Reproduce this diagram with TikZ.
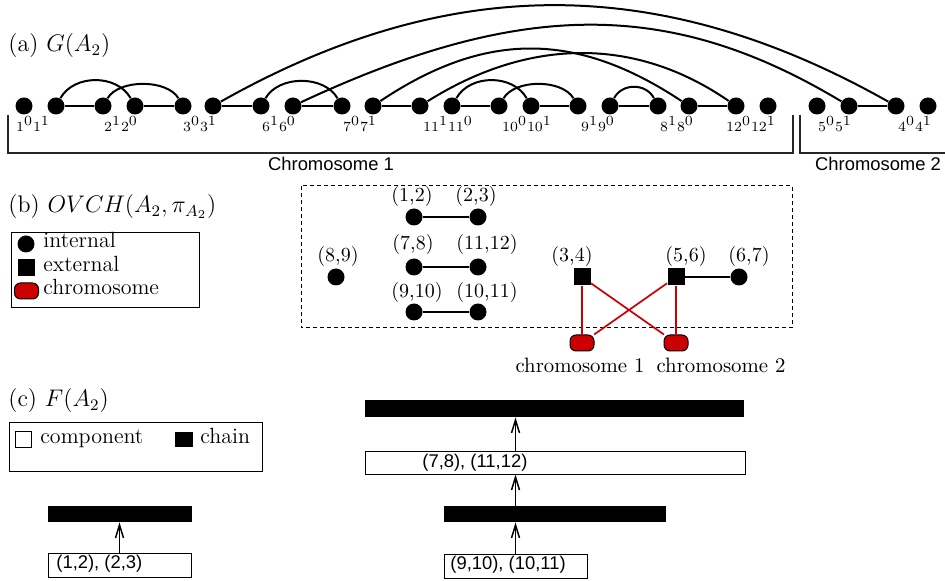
\documentclass[tikz,border=0pt]{standalone}
\usepackage{fontspec}
\newfontfamily\hv{Liberation Sans}
\usetikzlibrary{arrows.meta}
\definecolor{chrred}{RGB}{204,0,0}
\DeclareMathSizes{7}{7}{7}{7}
\begin{document}
\begin{tikzpicture}[x=0.5pt,y=-0.5pt,
  dot/.style={circle,fill=black,inner sep=0pt,minimum size=8.5pt},
  sq/.style={rectangle,fill=black,inner sep=0pt,minimum size=8.5pt},
  chr/.style={rectangle,rounded corners=3pt,fill=chrred,draw=black,line width=0.5pt,inner sep=0pt,minimum width=12pt,minimum height=8pt},
  edge/.style={line width=1pt},
  redge/.style={chrred,line width=0.85pt},
  lab/.style={font=\fontsize{10}{12}\selectfont,inner sep=0pt},
  tinylab/.style={font=\fontsize{7}{8}\selectfont,inner sep=0pt,anchor=base},
  title/.style={font=\fontsize{12}{14}\selectfont,anchor=base west,inner sep=0pt},
  legtext/.style={font=\fontsize{11}{13}\selectfont,anchor=base west,inner sep=0pt},
  sans/.style={font=\hv\fontsize{9.2}{11}\selectfont,inner sep=0pt},
  chainbar/.style={fill=black,inner sep=0pt},
  compbox/.style={draw=black,line width=0.5pt,fill=white,inner sep=0pt},
  frame/.style={line width=0.5pt},
  bracket/.style={line width=0.6pt,black!85},
  up/.style={line width=0.75pt,-{Straight Barb[length=6.5pt,width=4pt]}},
]
\useasboundingbox (0,0) rectangle (945,581);

% ---------------- (a) ----------------
\node[title] (ta) at (8,52) {(a) $G(A_2)$};

\foreach \n/\x in {e10/24,e11/56,e21/103,e20/135,e30/183,e31/213,e61/261,e60/293,
  e70/342,e71/373,e111/420,e110/452,e100/499,e101/531,e91/578,e90/610,
  e81/658,e80/689,e120/736,e121/768,e50/817,e51/849,e40/896,e41/928}
  \node[dot] (\n) at (\x,106) {};

% adjacencies (straight)
\draw[edge] (e11) -- (e21);
\draw[edge] (e20) -- (e30);
\draw[edge] (e31) -- (e61);
\draw[edge] (e60) -- (e70);
\draw[edge] (e71) -- (e111);
\draw[edge] (e110) -- (e100);
\draw[edge] (e101) -- (e91);
\draw[edge] (e90) -- (e81);
\draw[edge] (e80) -- (e120);
\draw[edge] (e51) -- (e40);

% adjacencies (arcs)
\draw[edge] (e11) .. controls +(18,-32) and +(-18,-32) .. (e20);
\draw[edge] (e21) .. controls +(16,-27) and +(-16,-27) .. (e30);
\draw[edge] (e61) .. controls +(18,-31) and +(-18,-31) .. (e70);
\draw[edge] (e110) .. controls +(18,-32) and +(-18,-32) .. (e101);
\draw[edge] (e100) .. controls +(16,-27) and +(-16,-27) .. (e91);
\draw[edge] (e90) .. controls +(12,-23) and +(-12,-23) .. (e81);
\draw[edge] (e31) .. controls +(236,-133) and +(-236,-133) .. (e40);
\draw[edge] (e60) .. controls +(229,-107) and +(-178,-107) .. (e51);
\draw[edge] (e71) .. controls +(112,-75) and +(-113,-75) .. (e80);
\draw[edge] (e111) .. controls +(110,-69) and +(-100,-69) .. (e120);

\node[tinylab] (l1) at (33,132) {$1^0 1^1$};
\node[tinylab] (l2) at (121,132) {$2^1 2^0$};
\node[tinylab] (l3) at (200,132) {$3^0 3^1$};
\node[tinylab] (l6) at (279,132) {$6^1 6^0$};
\node[tinylab] (l7) at (360,132) {$7^0 7^1$};
\node[tinylab] (l11) at (448,132) {$11^1 11^0$};
\node[tinylab] (l10) at (527,132) {$10^0 10^1$};
\node[tinylab] (l9) at (598,132) {$9^1 9^0$};
\node[tinylab] (l8) at (677,132) {$8^1 8^0$};
\node[tinylab] (l12) at (751,132) {$12^0 12^1$};
\node[tinylab] (l5) at (835,132) {$5^0 5^1$};
\node[tinylab] (l4) at (915,132) {$4^0 4^1$};

\draw[bracket] (8,115) -- (8,153) -- (793,153) -- (793,115);
\draw[bracket] (800,115) -- (800,153) -- (945,153);
\node[sans] (c1lab) at (331,164) {Chromosome 1};
\node[sans] (c2lab) at (878,164) {Chromosome 2};

% ---------------- (b) ----------------
\node[title] (tb) at (8,213) {(b) $OVCH(A_2,\pi_{A_2})$};
\draw[frame] (11,233) rectangle (199,308);
\node[dot] (lgi) at (26,244) {};
\node[legtext] (lgit) at (43,248) {internal};
\node[sq] (lge) at (26,268) {};
\node[legtext] (lget) at (43,272) {external};
\node[chr] (lgc) at (26.5,291) {};
\node[legtext] (lgct) at (43,295) {chromosome};

\draw[frame,dashed,dash pattern=on 2pt off 1.5pt] (301,186) rectangle (792,328);

\node[dot] (p12) at (414,217) {};
\node[dot] (p23) at (478,217) {};
\node[dot] (p78) at (414,267) {};
\node[dot] (p1112) at (478,267) {};
\node[dot] (p910) at (414,312) {};
\node[dot] (p1011) at (478,312) {};
\node[dot] (p89) at (336,277) {};
\node[sq] (p34) at (582,277) {};
\node[sq] (p56) at (676,277) {};
\node[dot] (p67) at (739,277) {};
\node[chr] (ch1) at (582,343) {};
\node[chr] (ch2) at (676,343) {};

\node[lab] (q12) at (412,197) {(1,2)};
\node[lab] (q23) at (476,197) {(2,3)};
\node[lab] (q78) at (413,245) {(7,8)};
\node[lab] (q1112) at (487,245) {(11,12)};
\node[lab] (q910) at (417,293) {(9,10)};
\node[lab] (q1011) at (487,293) {(10,11)};
\node[lab] (q89) at (338,257) {(8,9)};
\node[lab] (q34) at (572,257) {(3,4)};
\node[lab] (q56) at (686,257) {(5,6)};
\node[lab] (q67) at (749,257) {(6,7)};

\draw[edge] (p12) -- (p23);
\draw[edge] (p78) -- (p1112);
\draw[edge] (p910) -- (p1011);
\draw[edge] (p56) -- (p67);
\draw[redge] (p34) -- (ch1);
\draw[redge] (p34) -- (ch2);
\draw[redge] (p56) -- (ch1);
\draw[redge] (p56) -- (ch2);

\node[lab,font=\fontsize{10.4}{12}\selectfont,anchor=base] (ch1t) at (580,373) {chromosome 1};
\node[lab,font=\fontsize{10.4}{12}\selectfont,anchor=base] (ch2t) at (721,373) {chromosome 2};

% ---------------- (c) ----------------
\node[title] (tc) at (8,407) {(c) $F(A_2)$};
\draw[frame] (9,423) rectangle (262,471);
\node[compbox,minimum width=8pt,minimum height=7.5pt] (lgcomp) at (23.5,439.5) {};
\node[legtext] (lgcompt) at (40,444) {component};
\node[chainbar,minimum width=9pt,minimum height=7.5pt] (lgchain) at (184,439.5) {};
\node[legtext] (lgchaint) at (200,444) {chain};

\node[chainbar,minimum width=72pt,minimum height=8pt] (bar1) at (120,514) {};
\node[compbox,minimum width=71.5pt,minimum height=12pt] (box1) at (119.5,565) {};
\node[sans,anchor=west] (box1t) at (56,564) {(1,2), (2,3)};
\draw[up] (box1.north) -- (box1.north |- bar1.south);

\node[chainbar,minimum width=189.5pt,minimum height=8.5pt] (barT) at (554.5,408.5) {};
\node[compbox,minimum width=190pt,minimum height=11.5pt] (box2) at (555,462.5) {};
\node[sans,anchor=west] (box2t) at (422,463) {(7,8), (11,12)};
\node[chainbar,minimum width=111pt,minimum height=8pt] (bar2) at (555,514) {};
\node[compbox,minimum width=71.5pt,minimum height=12pt] (box3) at (515.5,566) {};
\node[sans,anchor=west] (box3t) at (450,565) {(9,10), (10,11)};

\draw[up] (box3.north) -- (box3.north |- bar2.south);
\draw[up] (box3.north |- bar2.north) -- (box3.north |- box2.south);
\draw[up] (box3.north |- box2.north) -- (box3.north |- barT.south);
\end{tikzpicture}
\end{document}
